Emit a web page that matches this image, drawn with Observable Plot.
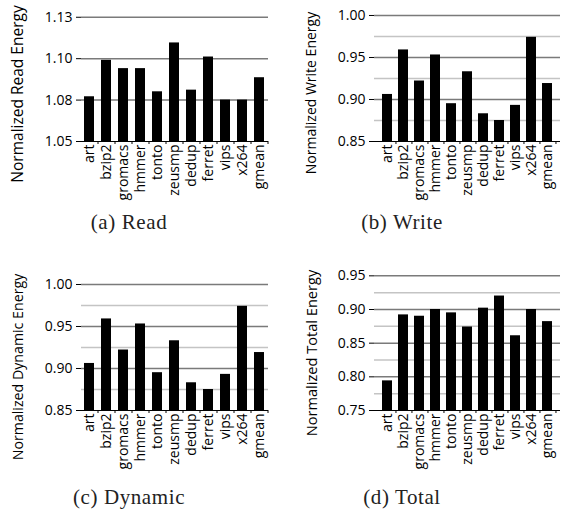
<!DOCTYPE html>
<html>
<head>
<meta charset="utf-8">
<script src="https://cdn.jsdelivr.net/npm/d3@7"></script>
<script src="https://cdn.jsdelivr.net/npm/@observablehq/plot@0.6"></script>
<style>
  html, body { margin: 0; padding: 0; background: #fff; }
  #fig { position: relative; width: 561px; height: 511px; overflow: hidden; background: #fff; }
  .panel { position: absolute; }
  .ytitle { position: absolute; white-space: nowrap; font-family: "Open Sans", sans-serif; color: #000;
            transform: translate(-50%, -50%) rotate(-90deg); }
  .caption { position: absolute; white-space: nowrap; font-family: "Liberation Serif", "DejaVu Serif", serif;
             color: #222; transform: translate(-50%, -50%); letter-spacing: 0.6px; }
</style>
</head>
<body>
<div id="fig"></div>
<script>
// ---- data ----
const benchmarks = ["art", "bzip2", "gromacs", "hmmer", "tonto", "zeusmp", "dedup", "ferret", "vips", "x264", "gmean"];

const readEnergy    = [1.077, 1.099, 1.094, 1.094, 1.080, 1.1095, 1.081, 1.101, 1.075, 1.075, 1.0885];
const writeEnergy   = [0.906, 0.959, 0.922, 0.953, 0.895, 0.933, 0.883, 0.875, 0.893, 0.974, 0.919];
const dynamicEnergy = [0.906, 0.959, 0.922, 0.953, 0.895, 0.933, 0.883, 0.875, 0.893, 0.974, 0.919];
const totalEnergy   = [0.794, 0.892, 0.890, 0.900, 0.895, 0.874, 0.902, 0.920, 0.861, 0.900, 0.882];

const readTicks = [1.05, 1.075, 1.10, 1.125];
const readTickLabels = ["1.05", "1.08", "1.10", "1.13"];
const readMinor = [];

const writeTicks = [0.85, 0.90, 0.95, 1.00];
const writeTickLabels = ["0.85", "0.90", "0.95", "1.00"];
const writeMinor = [0.875, 0.925, 0.975];

const totalTicks = [0.75, 0.80, 0.85, 0.90, 0.95];
const totalTickLabels = ["0.75", "0.80", "0.85", "0.90", "0.95"];
const totalMinor = [0.775, 0.825, 0.875, 0.925];

const titles = ["Normalized Read Energy", "Normalized Write Energy", "Normalized Dynamic Energy", "Normalized Total Energy"];
const captions = ["(a) Read", "(b) Write", "(c) Dynamic", "(d) Total"];

// ---- layout ----
const panels = [
  {values: readEnergy, ticks: readTicks, labels: readTickLabels, minor: readMinor, top: 1.1321,
   left: 0, topPx: 0, width: 280, ml: 81, mr: 12, mt: 5, mb: 69, h: 210, tfs: 15.5, tx: 17, ty: 94, cx: 129, cy: 222},
  {values: writeEnergy, ticks: writeTicks, labels: writeTickLabels, minor: writeMinor, top: 1.0095,
   left: 280, topPx: 0, width: 281, ml: 94, mr: 1, mt: 7, mb: 69, h: 210, tfs: 14, tx: 310, ty: 93, cx: 402, cy: 222},
  {values: dynamicEnergy, ticks: writeTicks, labels: writeTickLabels, minor: writeMinor, top: 1.0107,
   left: 0, topPx: 250, width: 280, ml: 81, mr: 12, mt: 25, mb: 70, h: 230, tfs: 14.2, tx: 17, ty: 367, cx: 129, cy: 497},
  {values: totalEnergy, ticks: totalTicks, labels: totalTickLabels, minor: totalMinor, top: 0.9505,
   left: 280, topPx: 250, width: 281, ml: 94, mr: 1, mt: 25, mb: 70, h: 230, tfs: 14.6, tx: 311, ty: 353, cx: 402, cy: 497}
];

const fig = document.getElementById("fig");

panels.forEach((p, k) => {
  const data = benchmarks.map((b, i) => ({bench: b, value: p.values[i]}));
  const base = p.ticks[0];
  const step = (p.width - p.ml - p.mr) / benchmarks.length;
  const chart = Plot.plot({
    width: p.width,
    height: p.h,
    marginLeft: p.ml, marginRight: p.mr, marginTop: p.mt, marginBottom: p.mb,
    style: {fontFamily: "'Open Sans', sans-serif", background: "transparent", overflow: "visible"},
    x: {domain: benchmarks, paddingInner: 0.4, paddingOuter: 0.2, axis: null},
    y: {domain: [base, p.top], axis: null},
    marks: [
      Plot.ruleY(p.minor, {stroke: "#c4c4c4", strokeWidth: 1.5}),
      Plot.ruleY(p.ticks.slice(1), {stroke: "#7a7a7a", strokeWidth: 1.5}),
      Plot.barY(data, {x: "bench", y1: base, y2: "value", fill: "#000"}),
      Plot.ruleY([base], {stroke: "#000", strokeWidth: 1}),
      Plot.axisY({ticks: p.ticks, tickFormat: (d, i) => p.labels[i], tickSize: 5, tickPadding: 4,
                  fontSize: 14, color: "#000", line: true, label: null}),
      Plot.axisX({tickSize: 0, tickPadding: 3, tickRotate: -90, fontSize: 14, color: "#000", label: null}),
      Plot.axisX({tickSize: 3, tickFormat: () => "", dx: step / 2, label: null, color: "#000"})
    ]
  });
  const wrap = document.createElement("div");
  wrap.className = "panel";
  wrap.style.left = p.left + "px";
  wrap.style.top = p.topPx + "px";
  wrap.appendChild(chart);
  fig.appendChild(wrap);

  const t = document.createElement("div");
  t.className = "ytitle";
  t.style.left = p.tx + "px";
  t.style.top = p.ty + "px";
  t.style.fontSize = p.tfs + "px";
  t.textContent = titles[k];
  fig.appendChild(t);

  const c = document.createElement("div");
  c.className = "caption";
  c.style.left = p.cx + "px";
  c.style.top = p.cy + "px";
  c.style.fontSize = "21px";
  c.textContent = captions[k];
  fig.appendChild(c);
});
</script>
</body>
</html>
